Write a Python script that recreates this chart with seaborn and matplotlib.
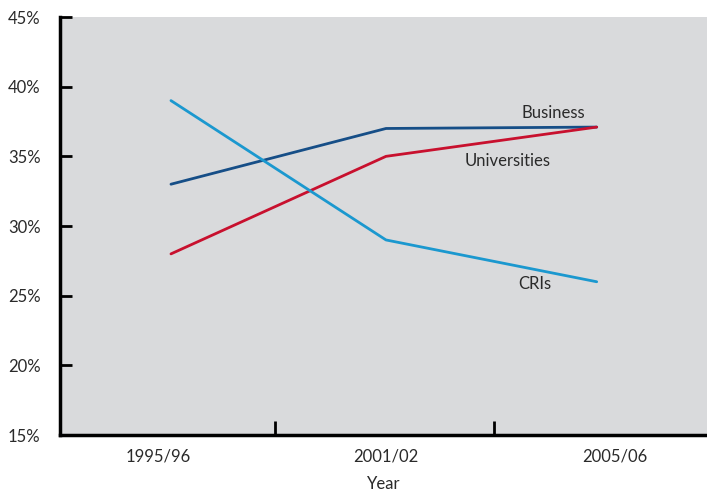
import matplotlib
matplotlib.use("Agg")
import matplotlib.pyplot as plt
import seaborn as sns
import pandas as pd

years = ["1995/96", "2001/02", "2005/06"]
business = [33.0, 37.0, 37.1]
universities = [28.0, 35.0, 37.1]
cris = [39.0, 29.0, 26.0]
series_names = ["Business", "Universities", "CRIs"]
yticks = [15, 20, 25, 30, 35, 40, 45]

sns.set_theme(style="white")
plt.rcParams['font.family'] = ['Lato', 'DejaVu Sans']

xpos = [0, 1, 1.98]
rows = []
for name, vals in zip(series_names, [business, universities, cris]):
    for x, v in zip(xpos, vals):
        rows.append({"x": x, "value": v, "series": name})
df = pd.DataFrame(rows)

colors = {"Business": "#164e87", "Universities": "#c8102e", "CRIs": "#1b98cf"}
tc = "#2a2a2a"

fig = plt.figure(figsize=(7.07, 4.93), dpi=100)
ax = fig.add_axes([0.0849, 0.1176, 0.9151, 0.8479])
ax.set_facecolor("#d9dadc")
sns.lineplot(data=df, x="x", y="value", hue="series", palette=colors,
             linewidth=2, legend=False, ax=ax)

ax.set_xlim(-0.516, 2.493)
ax.set_ylim(15, 45)
ax.set_yticks(yticks)
ax.set_yticklabels([f"{v}%" for v in yticks], fontsize=12, color=tc)
ax.tick_params(axis="y", which="major", left=False, length=0, pad=14)
# inward tick marks on the y axis
ytrans = ax.get_yaxis_transform()
for v in yticks:
    ax.plot([0, 0.0185], [v, v], transform=ytrans, color="black",
            linewidth=2, solid_capstyle="butt", clip_on=False, zorder=6)

ax.set_xticks([-0.06, 1.0, 2.065])
ax.set_xticklabels(years, fontsize=12, color=tc)
ax.tick_params(axis="x", which="major", bottom=True, length=0, pad=10)
ax.set_xticks([0.484, 1.502], minor=True)
ax.tick_params(axis="x", which="minor", bottom=True, direction="in", length=10, width=2, color="black")
ax.set_xlabel("Year", fontsize=12, color=tc, labelpad=8)
ax.set_ylabel("")

for s in ["top", "right"]:
    ax.spines[s].set_visible(False)
for s in ["left", "bottom"]:
    ax.spines[s].set_color("black")
    ax.spines[s].set_linewidth(2.5)
    ax.spines[s].set_zorder(7)

ax.text(1.777, 38.1, "Business", fontsize=12, ha="center", va="center", color=tc)
ax.text(1.567, 34.67, "Universities", fontsize=12, ha="center", va="center", color=tc)
ax.text(1.693, 25.84, "CRIs", fontsize=12, ha="center", va="center", color=tc)

fig.savefig("out.png", dpi=100, facecolor="white")
